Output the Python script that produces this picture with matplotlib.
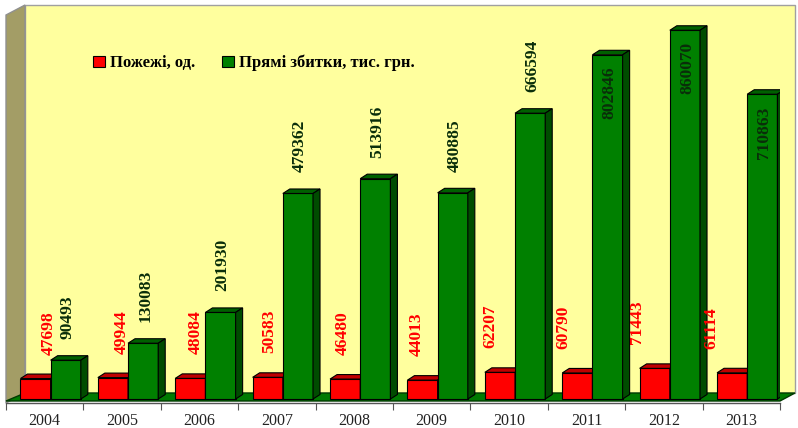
import matplotlib
matplotlib.use('Agg')
import matplotlib.pyplot as plt
import numpy as np
from matplotlib.patches import Polygon
from matplotlib.transforms import ScaledTranslation

years = ['2004', '2005', '2006', '2007', '2008', '2009', '2010', '2011', '2012', '2013']
fires = [47698, 49944, 48084, 50583, 46480, 44013, 62207, 60790, 71443, 61114]
losses = [90493, 130083, 201930, 479362, 513916, 480885, 666594, 802846, 860070, 710863]
fires_label = 'Пожежі, од.'
losses_label = 'Прямі збитки, тис. грн.'

plt.rcParams['font.family'] = ['Liberation Serif', 'DejaVu Serif']

W, H = 798, 428
fig = plt.figure(figsize=(W / 100, H / 100), dpi=100)
fig.patch.set_facecolor('white')


def px(x, y):
    return (x / W, 1 - y / H)


# front plane of the 3d box
ax = fig.add_axes([6 / W, 1 - 403 / H, 774 / W, 388 / H])
ymax = 905000
ax.set_xlim(0, 10)
ax.set_ylim(0, ymax)
ax.patch.set_visible(False)


def box_face(pts, fc, ec, z):
    p = Polygon([px(*q) for q in pts], closed=True, transform=fig.transFigure,
                facecolor=fc, edgecolor=ec, linewidth=1, zorder=z, clip_on=False)
    ax.add_artist(p)


# back wall, side wall and floor
box_face([(25, 5), (795, 5), (795, 393), (25, 393)], '#FFFF9E', '#A0A0A0', 0.1)
box_face([(6, 15), (25, 5), (25, 393), (6, 403)], '#A39D66', '#909090', 0.2)
box_face([(6, 401), (780, 401), (795, 393), (25, 393)], '#007A00', '#003A00', 0.3)

# bars sit a few pixels behind the front plane
shift = ScaledTranslation(4 / 100, 4 / 100, fig.dpi_scale_trans)
tr = ax.transData + shift

x = np.arange(len(years))
bw = 0.39
red = ax.bar(x + 0.33, fires, bw, color='#FF0000', edgecolor='black',
             linewidth=0.8, transform=tr, zorder=3, label=fires_label)
green = ax.bar(x + 0.72, losses, bw, color='#008000', edgecolor='black',
               linewidth=0.8, transform=tr, zorder=4, label=losses_label)

# depth of the bars
dxd = 7 / 77.4
dyd = 4.5 * ymax / 388


def add_depth(rects, top_c, side_c, z):
    for r in rects:
        x0, w, h = r.get_x(), r.get_width(), r.get_height()
        top = Polygon([(x0, h), (x0 + dxd, h + dyd), (x0 + w + dxd, h + dyd), (x0 + w, h)],
                      closed=True, transform=tr, facecolor=top_c, edgecolor='black',
                      linewidth=0.8, zorder=z)
        side = Polygon([(x0 + w, 0), (x0 + w + dxd, dyd), (x0 + w + dxd, h + dyd), (x0 + w, h)],
                       closed=True, transform=tr, facecolor=side_c, edgecolor='black',
                       linewidth=0.8, zorder=z)
        ax.add_artist(top)
        ax.add_artist(side)


add_depth(red, '#C00000', '#8E0000', 3)
add_depth(green, '#006000', '#004C00', 4)

# value labels
p2pt = 0.72
for i, r in enumerate(red):
    cx = r.get_x() + r.get_width() / 2
    ax.annotate(str(fires[i]), (cx, fires[i]), xycoords=tr,
                xytext=((13 - 3.8 * i) * p2pt, 24 * p2pt), textcoords='offset points',
                rotation=90, ha='center', va='bottom', color='#FF0000',
                fontsize=12.5, fontweight='bold', zorder=6)

for i, r in enumerate(green):
    cx = r.get_x() + r.get_width() / 2
    if losses[i] > 0.75 * ymax:
        dy, va = -12, 'top'
    else:
        dy, va = 21, 'bottom'
    ax.annotate(str(losses[i]), (cx, losses[i]), xycoords=tr,
                xytext=(2 * p2pt, dy * p2pt), textcoords='offset points',
                rotation=90, ha='center', va=va, color='#0A2E0A',
                fontsize=12.5, fontweight='bold', zorder=6)

# category axis
for s in ['left', 'right', 'top']:
    ax.spines[s].set_visible(False)
ax.spines['bottom'].set_color('#555555')
ax.spines['bottom'].set_linewidth(1)
ax.set_yticks([])
ax.set_xticks(np.arange(len(years) + 1))
ax.set_xticklabels([])
ax.set_xticks(x + 0.5, minor=True)
ax.set_xticklabels(years, minor=True)
ax.tick_params(axis='x', which='major', length=5, color='#555555', direction='out')
ax.tick_params(axis='x', which='minor', length=0, pad=7, labelsize=11.5, labelcolor='#222222')

ax.legend(handles=[red, green], loc='center left', bbox_to_anchor=(85 / W, 1 - 63 / H),
          bbox_transform=fig.transFigure, ncol=2, frameon=False, borderpad=0,
          handlelength=0.7, handleheight=0.7, handletextpad=0.3, columnspacing=1.6,
          prop={'family': 'Liberation Serif', 'weight': 'bold', 'size': 12})

fig.savefig('out.png', dpi=100)
